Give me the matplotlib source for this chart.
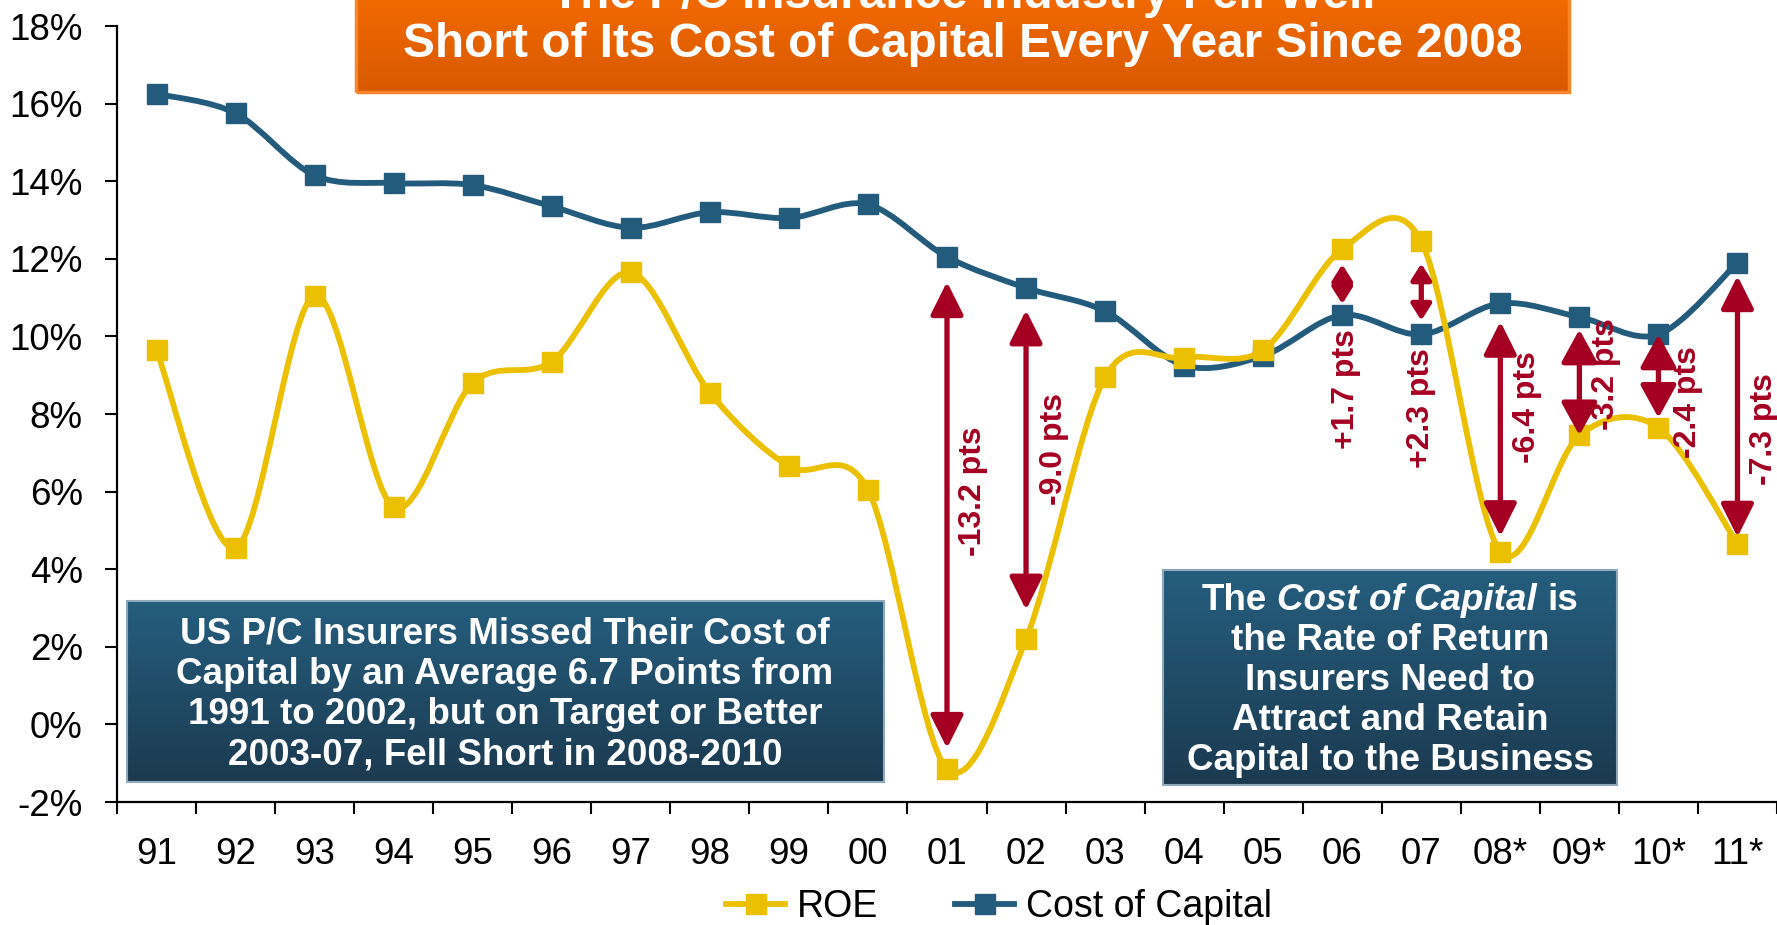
import numpy as np
import matplotlib
matplotlib.use("Agg")
import matplotlib.pyplot as plt
from matplotlib.path import Path
from matplotlib.patches import PathPatch, Rectangle
from matplotlib.lines import Line2D
from matplotlib.colors import LinearSegmentedColormap

plt.rcParams['font.family'] = ['Liberation Sans', 'DejaVu Sans']

# ---------------- data ----------------
years = ["91", "92", "93", "94", "95", "96", "97", "98", "99", "00", "01",
         "02", "03", "04", "05", "06", "07", "08*", "09*", "10*", "11*"]
roe = [9.65, 4.55, 11.05, 5.6, 8.8, 9.35, 11.65, 8.55, 6.65, 6.05, -1.15,
       2.2, 8.95, 9.45, 9.65, 12.25, 12.45, 4.45, 7.45, 7.65, 4.65]
coc = [16.25, 15.75, 14.15, 13.95, 13.9, 13.35, 12.8, 13.2, 13.05, 13.4, 12.05,
       11.25, 10.65, 9.25, 9.5, 10.55, 10.05, 10.85, 10.5, 10.05, 11.9]
gap_years = ["01", "02", "06", "07", "08*", "09*", "10*", "11*"]
gap_labels = ["-13.2 pts", "-9.0 pts", "+1.7 pts", "+2.3 pts",
              "-6.4 pts", "-3.2 pts", "-2.4 pts", "-7.3 pts"]
yticks = [-2, 0, 2, 4, 6, 8, 10, 12, 14, 16, 18]

title_lines = ["The P/C Insurance Industry Fell Well",
               "Short of Its Cost of Capital Every Year Since 2008"]
left_box_lines = ["US P/C Insurers Missed Their Cost of",
                  "Capital by an Average 6.7 Points from",
                  "1991 to 2002, but on Target or Better",
                  "2003-07, Fell Short in 2008-2010"]
right_box_lines = [("The ", "Cost of Capital", " is"),
                   "the Rate of Return",
                   "Insurers Need to",
                   "Attract and Retain",
                   "Capital to the Business"]

# ---------------- layout / style ----------------
W, H = 1777, 925
ROE_C = "#EBC000"
COC_C = "#225B7B"
RED = "#A50021"
MS = 14.5

# arrow layout: (shrink at ROE end, shrink at CoC end, head_len, head_half_width) in pt
arrow_style = {
    "01": (15, 18, 20, 10), "02": (21, 16, 20, 10),
    "06": (11, 8, 9.5, 6), "07": (16, 10, 9.5, 6),
    "08*": (11, 13, 20, 10), "09*": (0, 9, 20, 11),
    "10*": (7, 0, 20, 11), "11*": (5, 9.5, 20, 10),
}
# label layout: (x offset in categories, vertical center in % units)
label_pos = {
    "01": (0.33, 6.0), "02": (0.35, 7.1), "06": (0.05, 8.65), "07": (0.0, 8.16),
    "08*": (0.34, 8.18), "09*": (0.34, 9.03), "10*": (0.38, 8.3), "11*": (0.33, 7.6),
}

fig = plt.figure(figsize=(W / 100, H / 100), dpi=100)
fig.patch.set_facecolor("white")


def fx(px):
    return px / W


def fy(py):
    return 1 - py / H


ax = fig.add_axes([fx(117), fy(802), 1 - fx(117), (802 - 26) / H])
x = np.arange(len(years))
ax.set_xlim(-0.5, len(years) - 0.5)
ax.set_ylim(-2, 18)
for s in ["top", "right"]:
    ax.spines[s].set_visible(False)
for s in ["left", "bottom"]:
    ax.spines[s].set_linewidth(1.6)
ax.set_yticks(yticks)
ax.set_yticklabels([f"{v}%" for v in yticks])
ax.tick_params(axis="y", length=8.6, width=1.5, pad=16, labelsize=26.5)
ax.set_xticks(x)
ax.set_xticklabels(years)
ax.set_xticks(np.arange(-0.5, len(years) - 0.4, 1), minor=True)
ax.tick_params(axis="x", which="major", length=0, pad=25, labelsize=26.5)
ax.tick_params(axis="x", which="minor", length=8.6, width=1.5)


def smooth_path(xs, ys, t=0.16):
    verts = [(xs[0], ys[0])]
    codes = [Path.MOVETO]
    n = len(xs)
    for i in range(n - 1):
        p0 = i - 1 if i > 0 else i
        p3 = i + 2 if i + 2 < n else i + 1
        c1 = (xs[i] + (xs[i + 1] - xs[p0]) * t, ys[i] + (ys[i + 1] - ys[p0]) * t)
        c2 = (xs[i + 1] - (xs[p3] - xs[i]) * t, ys[i + 1] - (ys[p3] - ys[i]) * t)
        verts += [c1, c2, (xs[i + 1], ys[i + 1])]
        codes += [Path.CURVE4] * 3
    return Path(verts, codes)


ax.add_patch(PathPatch(smooth_path(x, coc), fill=False, edgecolor=COC_C, lw=4.2,
                       capstyle="round", joinstyle="round", zorder=3))
ax.plot(x, coc, ls="none", marker="s", ms=MS, color=COC_C, zorder=4)
ax.add_patch(PathPatch(smooth_path(x, roe), fill=False, edgecolor=ROE_C, lw=4.2,
                       capstyle="round", joinstyle="round", zorder=5))
ax.plot(x, roe, ls="none", marker="s", ms=MS, color=ROE_C, zorder=6)

# gap arrows + labels
for yr, lab in zip(gap_years, gap_labels):
    i = years.index(yr)
    sA, sB, hl, hw = arrow_style[yr]
    ax.annotate("", xy=(i, coc[i]), xytext=(i, roe[i]),
                arrowprops=dict(arrowstyle=f"<|-|>,head_length={hl},head_width={hw}",
                                mutation_scale=1, color=RED, lw=3.8,
                                shrinkA=sA, shrinkB=sB),
                zorder=7)
    dx, yc = label_pos[yr]
    ax.text(i + dx, yc, lab, rotation=90, ha="center", va="center",
            fontsize=23, fontweight="bold", color=RED, zorder=8)


# ---------------- gradient boxes ----------------
def grad_box(x0, y0, x1, y1, top, bottom, edge, elw):
    bax = fig.add_axes([fx(x0), fy(y1), fx(x1 - x0), (y1 - y0) / H], zorder=10)
    cmap = LinearSegmentedColormap.from_list("g", [top, bottom])
    bax.imshow(np.linspace(0, 1, 256).reshape(-1, 1), cmap=cmap, aspect="auto",
               extent=[0, 1, 0, 1], origin="upper")
    bax.add_patch(Rectangle((0, 0), 1, 1, transform=bax.transAxes, fill=False,
                            edgecolor=edge, lw=elw, clip_on=False))
    bax.set_axis_off()
    return bax


grad_box(356, -10, 1569, 92, "#F46A00", "#D85A00", "#F7862A", 2.5)
grad_box(127, 601, 884, 782, "#255E7E", "#1B3A50", "#8FA8BA", 1.5)
grad_box(1163, 570, 1617, 785, "#255E7E", "#1B3A50", "#8FA8BA", 1.5)

# title text
fig.text(fx(963), fy(8), title_lines[0], ha="center", va="baseline", color="white",
         fontsize=34.4, fontweight="bold", zorder=20)
fig.text(fx(963), fy(57), title_lines[1], ha="center", va="baseline", color="white",
         fontsize=34.4, fontweight="bold", zorder=20)

BOX_FS = 26.5
# left box
for k, line in enumerate(left_box_lines):
    fig.text(fx(505), fy(631 + 40.3 * k + 12.5), line, ha="center", va="baseline",
             color="white", fontsize=BOX_FS, fontweight="bold", zorder=20)

# right box
renderer = fig.canvas.get_renderer()
for k, line in enumerate(right_box_lines):
    yb = fy(597 + 40 * k + 12.5)
    if isinstance(line, tuple):
        styles = ["normal", "italic", "normal"]
        parts = [p.strip() for p in line]
        tmp = [fig.text(0, 0, p, fontsize=BOX_FS, fontweight="bold", fontstyle=st)
               for p, st in zip(parts, styles)]
        ws = [t.get_window_extent(renderer).width for t in tmp]
        ta = fig.text(0, 0, "a b", fontsize=BOX_FS, fontweight="bold")
        tb = fig.text(0, 0, "ab", fontsize=BOX_FS, fontweight="bold")
        sp = ta.get_window_extent(renderer).width - tb.get_window_extent(renderer).width
        for t in tmp + [ta, tb]:
            t.remove()
        total = sum(ws) + 2 * sp
        xs = 1390 - total / 2
        for p, st, w in zip(parts, styles, ws):
            fig.text(fx(xs), yb, p, ha="left", va="baseline", color="white",
                     fontsize=BOX_FS, fontweight="bold", fontstyle=st, zorder=20)
            xs += w + sp
    else:
        fig.text(fx(1390), yb, line, ha="center", va="baseline", color="white",
                 fontsize=BOX_FS, fontweight="bold", zorder=20)

# legend
handles = [Line2D([], [], color=ROE_C, lw=4.2, marker="s", ms=MS),
           Line2D([], [], color=COC_C, lw=4.2, marker="s", ms=MS)]
fig.legend(handles, ["ROE", "Cost of Capital"], loc="center",
           bbox_to_anchor=(fx(999), fy(907)), ncol=2, frameon=False, fontsize=27,
           handlelength=1.57, handletextpad=0.32, columnspacing=2.05)

fig.savefig("out.png", dpi=100)
